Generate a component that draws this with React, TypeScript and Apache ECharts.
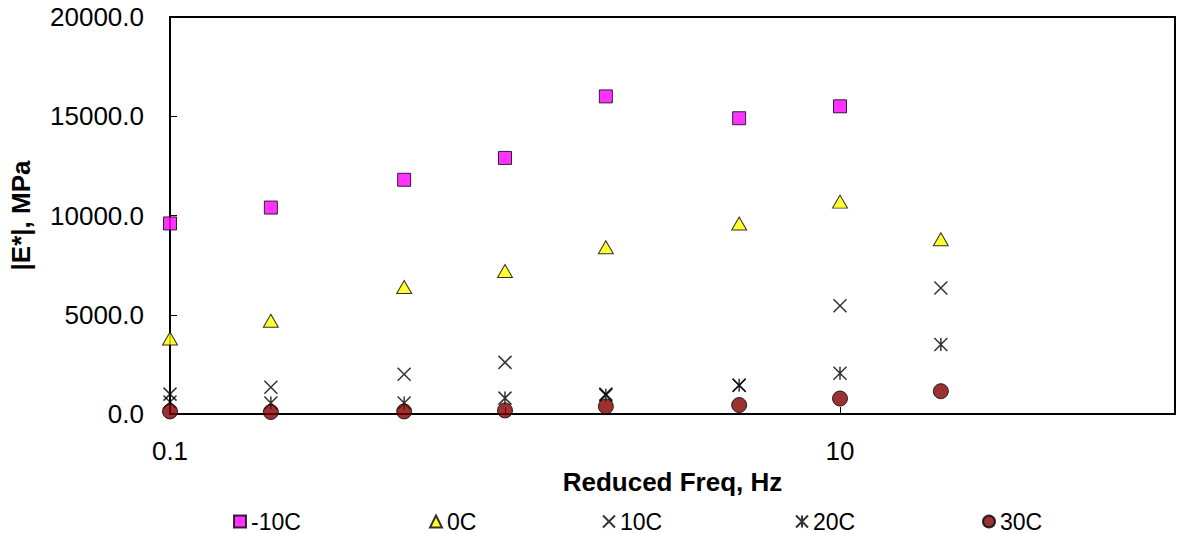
import React, { useEffect, useRef } from "react";
import * as echarts from "echarts";

const freqs = [0.1, 0.2, 0.5, 1, 2, 5, 10, 20];
const seriesNames = ["-10C", "0C", "10C", "20C", "30C"];
const valsM10 = [9600, 10400, 11800, 12900, 16000, 14900, 15500];
const vals0 = [3800, 4700, 6400, 7200, 8400, 9600, 10700, 8800];
const vals10 = [1000, 1350, 2000, 2600, 1000, 1450, 5450, 6350];
const vals20 = [600, 550, 550, 800, 950, 1450, 2050, 3500];
const vals30 = [130, 100, 130, 180, 380, 450, 780, 1150];
const yTicks = [0, 5000, 10000, 15000, 20000];

const CROSS = "path://M0,0L10,10M10,0L0,10";
const STAR = "path://M0,0L10,10M10,0L0,10M5,0L5,10";

function pairs(vals: number[]) {
  return vals.map((v, i) => [freqs[i], v]);
}

export default function App() {
  const ref = useRef<HTMLDivElement>(null);
  useEffect(() => {
    if (!ref.current) return;
    const chart = echarts.init(ref.current, null, { renderer: "svg" });
    const font = "'Liberation Sans', Arial, sans-serif";
    const legendLefts = [228, 424, 597, 790, 977];
    chart.setOption({
      animation: false,
      backgroundColor: "#ffffff",
      textStyle: { fontFamily: font },
      grid: {
        left: 168,
        top: 17,
        right: 5,
        bottom: 119,
        show: true,
        borderColor: "#000",
        borderWidth: 2,
        containLabel: false,
      },
      legend: seriesNames.map((n, i) => ({
        data: [n],
        left: legendLefts[i],
        top: 505,
        itemWidth: 12,
        itemHeight: 12,
        textStyle: { fontFamily: font, fontSize: 23, color: "#000" },
        selectedMode: false,
      })),
      xAxis: {
        type: "log",
        logBase: 10,
        min: 0.1,
        max: 100,
        name: "Reduced Freq, Hz",
        nameLocation: "middle",
        nameGap: 53,
        nameTextStyle: { fontFamily: font, fontSize: 26, fontWeight: "bold", color: "#000" },
        axisLine: { show: true, lineStyle: { color: "#000", width: 2 } },
        axisTick: { show: true, inside: true, length: 7, lineStyle: { color: "#000", width: 1 } },
        splitLine: { show: false },
        minorTick: { show: false },
        axisLabel: {
          fontFamily: font,
          fontSize: 26,
          color: "#000",
          margin: 24,
          formatter: (v: number) => {
            const e = Math.round(Math.log10(v));
            if (e === -1) return "0.1";
            if (e === 1) return "10";
            return "";
          },
        },
      },
      yAxis: {
        type: "value",
        min: yTicks[0],
        max: yTicks[yTicks.length - 1],
        interval: 5000,
        name: "|E*|, MPa",
        nameLocation: "middle",
        nameRotate: 90,
        nameGap: 136,
        nameTextStyle: { fontFamily: font, fontSize: 26, fontWeight: "bold", color: "#000" },
        axisLine: { show: true, lineStyle: { color: "#000", width: 2 } },
        axisTick: { show: true, inside: true, length: 7, lineStyle: { color: "#000", width: 1 } },
        splitLine: { show: false },
        axisLabel: {
          fontFamily: font,
          fontSize: 26,
          color: "#000",
          margin: 26,
          formatter: (v: number) => v.toFixed(1),
        },
      },
      series: [
        {
          name: seriesNames[0],
          type: "scatter",
          symbol: "rect",
          symbolSize: 13,
          itemStyle: { color: "#FF00FF", borderColor: "#000", borderWidth: 1 },
          data: pairs(valsM10),
        },
        {
          name: seriesNames[1],
          type: "scatter",
          symbol: "triangle",
          symbolSize: [15, 13],
          itemStyle: { color: "#FFFF00", borderColor: "#000", borderWidth: 1 },
          data: pairs(vals0),
        },
        {
          name: seriesNames[2],
          type: "scatter",
          symbol: CROSS,
          symbolSize: 13,
          itemStyle: { color: "transparent", borderColor: "#000", borderWidth: 1.5 },
          data: pairs(vals10),
        },
        {
          name: seriesNames[3],
          type: "scatter",
          symbol: STAR,
          symbolSize: 13,
          itemStyle: { color: "transparent", borderColor: "#000", borderWidth: 1.5 },
          data: pairs(vals20),
        },
        {
          name: seriesNames[4],
          type: "scatter",
          symbol: "circle",
          symbolSize: 15,
          itemStyle: { color: "#800000", borderColor: "#000", borderWidth: 1 },
          data: pairs(vals30),
        },
      ],
    });
    return () => chart.dispose();
  }, []);
  return <div ref={ref} style={{ width: 1180, height: 533, position: "absolute", left: 0, top: 0 }} />;
}
